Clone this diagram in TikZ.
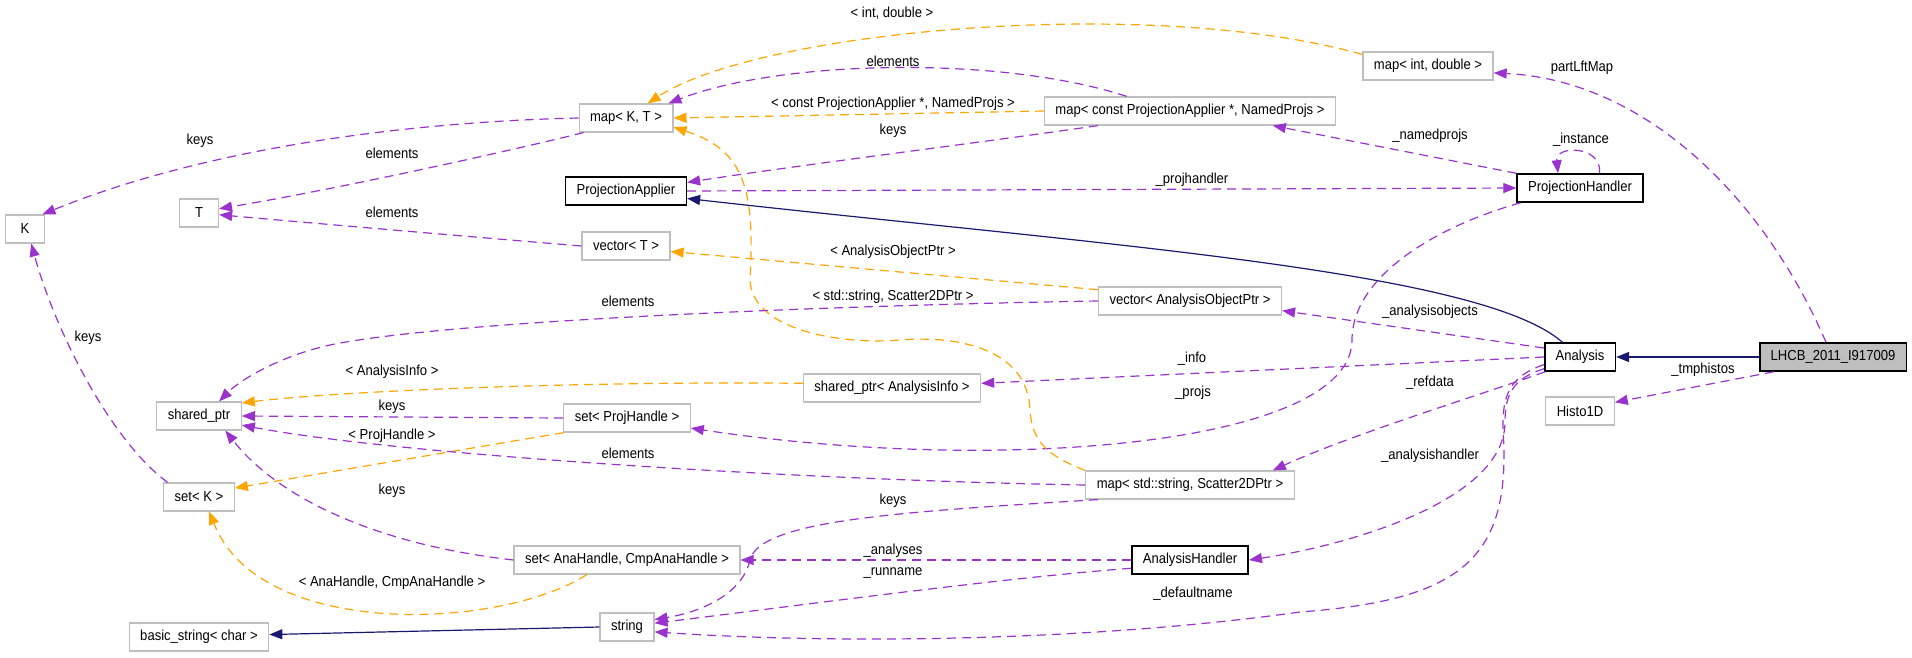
\documentclass[tikz,border=0pt]{standalone}
\usepackage{fontspec}
\setmainfont{Liberation Sans}[FakeStretch=0.9]
\usepackage{tikz}
\usetikzlibrary{arrows.meta}
\definecolor{memcol}{HTML}{9A32CD}
\definecolor{tmplcol}{HTML}{FFA500}
\definecolor{inhcol}{HTML}{191970}
\definecolor{grey75}{HTML}{BFBFBF}

\begin{document}
\begin{tikzpicture}[x=1pt,y=-1pt,every node/.style={font=\fontsize{14.5}{17}\selectfont},
  cls/.style={draw=grey75,line width=1.2pt,fill=white,minimum height=28pt,minimum width=39pt,inner xsep=11pt,inner ysep=0pt},
  doc/.style={cls,draw=black,line width=1.6pt},
  focus/.style={doc,fill=grey75},
  lbl/.style={inner sep=0pt},
  mem/.style={draw=memcol,line width=1.2pt,dash pattern=on 9pt off 6pt,-{Triangle[length=13pt,width=10pt]}},
  tmpl/.style={mem,draw=tmplcol},
  inh/.style={draw=inhcol,line width=1.2pt,-{Triangle[length=13pt,width=10pt]}}]

	\useasboundingbox (0,0) rectangle (1912,657);

	\node[focus] (lhcb)   at (1833,357) {LHCB\_2011\_I917009};
	\node[doc]   (ana)    at (1580,357) {Analysis};
	\node[cls]   (histo)  at (1580,411) {Histo1D};
	\node[doc]   (ph)     at (1580,188) {ProjectionHandler};
	\node[cls]   (mapid)  at (1428,66)  {map< int, double >};
	\node[cls]   (mapcpa) at (1190,111) {map< const ProjectionApplier *, NamedProjs >};
	\node[cls]   (vecaop) at (1190,301) {vector< AnalysisObjectPtr >};
	\node[cls]   (mapstr) at (1190,485) {map< std::string, Scatter2DPtr >};
	\node[doc]   (ah)     at (1190,560) {AnalysisHandler};
	\node[cls]   (spinfo) at (892,388)  {shared\_ptr< AnalysisInfo >};
	\node[cls]   (mapkt)  at (626,118)  {map< K, T >};
	\node[doc]   (pa)     at (626,191)  {ProjectionApplier};
	\node[cls]   (vect)   at (626,246)  {vector< T >};
	\node[cls]   (setph)  at (627,418)  {set< ProjHandle >};
	\node[cls]   (setah)  at (627,560)  {set< AnaHandle, CmpAnaHandle >};
	\node[cls]   (str)    at (627,627)  {string};
	\node[cls]   (kk)     at (25,229)   {K};
	\node[cls]   (tt)     at (199,213)  {T};
	\node[cls]   (sp)     at (199,416)  {shared\_ptr};
	\node[cls]   (setk)   at (199,497)  {set< K >};
	\node[cls]   (bstr)   at (199,637)  {basic\_string< char >};

	\draw[inh] (lhcb.west) -- (ana.east);
	\draw[inh] (ana.140) .. controls (1480,270) and (1100,245) .. (pa.-7);
	\draw[inh] (str.west) -- (bstr.2);

	\draw[mem] (lhcb.194) -- (histo.14) node[lbl] at (1703,370) {\_tmphistos};
	\draw[mem] ([xshift=-7pt]lhcb.north) .. controls (1760,190) and (1640,80) .. (mapid.-6) node[lbl] at (1582,68) {partLftMap};
	\draw[mem] (ph.37) .. controls (1602,145) and (1555,145) .. (ph.146) node[lbl] at (1581,140) {\_instance};
	\draw[mem] (ph.167) -- (mapcpa.-10) node[lbl] at (1430,136) {\_namedprojs};
	\draw[mem] (pa.east) -- (ph.west) node[lbl] at (1192,180) {\_projhandler};
	\draw[mem] (ph.194) .. controls (1440,225) and (1352,275) .. (1352,340)
	  .. controls (1352,445) and (1000,475) .. (setph.-9) node[lbl] at (1193,393) {\_projs};
	\draw[mem] (ana.166) -- (vecaop.-6) node[lbl] at (1430,312) {\_analysisobjects};
	\draw[mem] (ana.west) -- (spinfo.3) node[lbl] at (1192,359) {\_info};
	\draw[mem] (ana.203) .. controls (1480,395) and (1350,435) .. (mapstr.10) node[lbl] at (1430,383) {\_refdata};
	\draw[mem] (ana.198) .. controls (1515,378) and (1505,392) .. (1505,422)
	  .. controls (1505,500) and (1350,545) .. (ah.east) node[lbl] at (1430,456) {\_analysishandler};
	\draw[mem] (ana.192) .. controls (1510,376) and (1502,395) .. (1503,430)
	  .. controls (1512,560) and (1460,600) .. (1300,612)
	  .. controls (1100,640) and (850,645) .. (str.-10) node[lbl] at (1193,594) {\_defaultname};
	\draw[mem] (ah.west) -- (setah.east) node[lbl] at (893,551) {\_analyses};
	\draw[mem] (ah.188) .. controls (1000,578) and (780,608) .. (str.8) node[lbl] at (893,573) {\_runname};
	\draw[mem] (mapstr.189) .. controls (900,512) and (760,520) .. (750,560)
	  .. controls (742,595) and (700,612) .. (str.15) node[lbl] at (893,501) {keys};

	\draw[tmpl] (mapid.170) .. controls (1150,-5) and (760,30) .. (mapkt.34) node[lbl] at (892,13) {< int, double >};
	\draw[mem] (mapcpa.167) .. controls (1000,55) and (780,60) .. (mapkt.19) node[lbl] at (893,61) {elements};
	\draw[tmpl] (mapcpa.west) -- (mapkt.east) node[lbl] at (893,104) {< const ProjectionApplier *, NamedProjs >};
	\draw[mem] (mapcpa.189) .. controls (1000,140) and (800,165) .. (pa.8) node[lbl] at (893,131) {keys};
	\draw[tmpl] (vecaop.173) -- (vect.-7) node[lbl] at (893,252) {< AnalysisObjectPtr >};
	\draw[tmpl] (mapstr.north west) .. controls (1045,455) and (1032,440) .. (1030,410)
	  .. controls (1028,350) and (960,335) .. (900,340)
	  .. controls (840,345) and (752,330) .. (750,280)
	  .. controls (755,190) and (745,150) .. (mapkt.-11) node[lbl] at (893,297) {< std::string, Scatter2DPtr >};
	\draw[mem] (vecaop.west) .. controls (850,305) and (450,320) .. (330,345)
	  .. controls (280,356) and (240,380) .. (sp.36) node[lbl] at (628,301) {elements};
	\draw[tmpl] (spinfo.177) .. controls (600,381) and (350,390) .. (sp.17) node[lbl] at (392,372) {< AnalysisInfo >};
	\draw[mem] (setph.west) -- (sp.east) node[lbl] at (392,407) {keys};
	\draw[tmpl] (setph.193) -- (setk.14) node[lbl] at (392,436) {< ProjHandle >};
	\draw[mem] (mapstr.west) .. controls (800,480) and (400,455) .. (sp.-12) node[lbl] at (628,453) {elements};
	\draw[mem] (setah.west) .. controls (380,545) and (280,500) .. (sp.-29) node[lbl] at (392,491) {keys};
	\draw[tmpl] (setah.200) .. controls (500,630) and (260,640) .. (setk.-55) node[lbl] at (392,583) {< AnaHandle, CmpAnaHandle >};

	\draw[mem] (mapkt.west) .. controls (400,122) and (200,150) .. (kk.40) node[lbl] at (200,141) {keys};
	\draw[mem] (mapkt.199) .. controls (480,158) and (320,192) .. (tt.12) node[lbl] at (392,153) {elements};
	\draw[mem] (vect.west) .. controls (450,235) and (300,222) .. (tt.-5) node[lbl] at (392,212) {elements};
	\draw[mem] (setk.155) .. controls (110,440) and (55,330) .. (kk.-67) node[lbl] at (88,338) {keys};

\end{tikzpicture}
\end{document}
